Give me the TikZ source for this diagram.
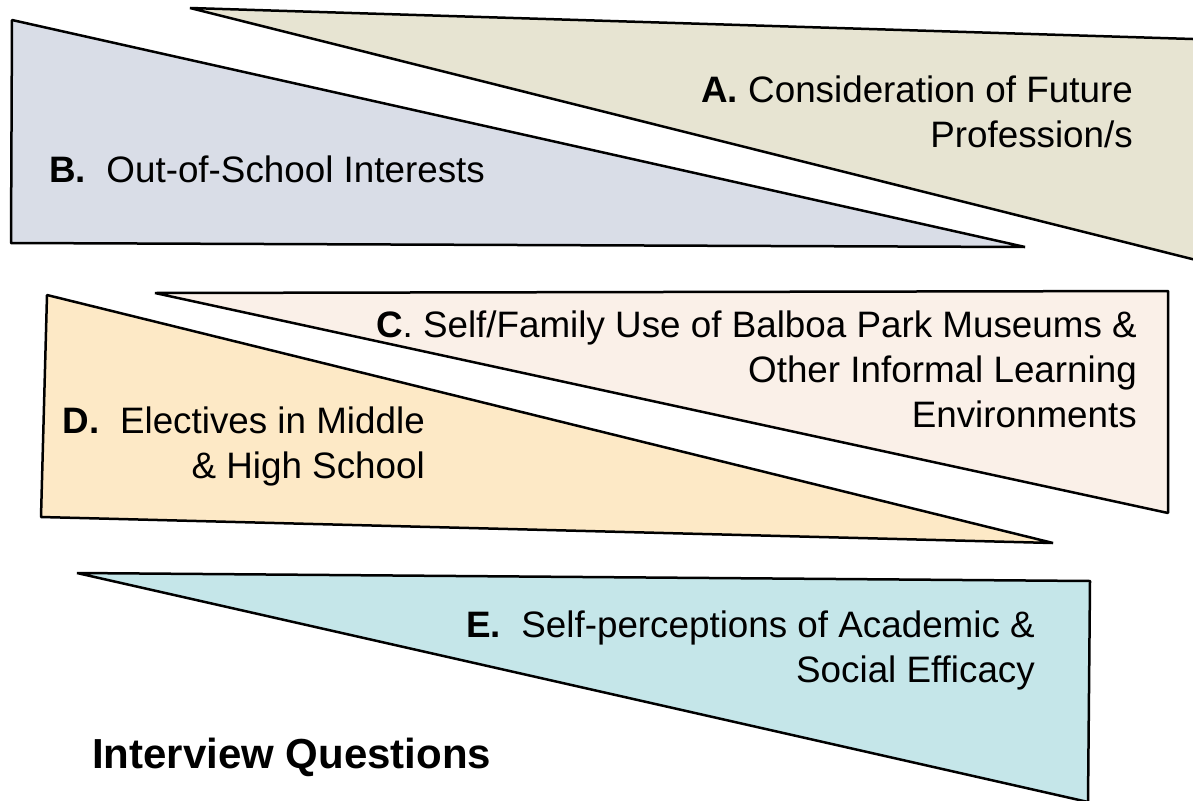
\documentclass[tikz,border=0pt]{standalone}
\usepackage{fontspec}
\setmainfont{Liberation Sans}
\definecolor{colA}{HTML}{E7E4D2}
\definecolor{colB}{HTML}{D9DDE7}
\definecolor{colC}{HTML}{FAF0E8}
\definecolor{colD}{HTML}{FDE9C6}
\definecolor{colE}{HTML}{C5E6E9}
\begin{document}
\begin{tikzpicture}[x=1pt,y=-1pt,
  wedge/.style={draw=black,line width=2.5pt,line join=bevel},
  lbl/.style={font=\fontsize{36.8}{45}\selectfont,inner sep=0pt,align=right},
  lbll/.style={font=\fontsize{36.8}{45}\selectfont,inner sep=0pt,align=left},
  title/.style={font=\fontsize{42}{50}\selectfont\bfseries,inner sep=0pt}]
\useasboundingbox (0,0) rectangle (1193,800);
\clip (0,0) rectangle (1193,800);
% A
\coordinate (a1) at (190,8);
\coordinate (a2) at (1212,39.6);
\coordinate (a3) at (1212,264);
\filldraw[wedge,fill=colA] (a1) -- (a2) -- (a3) -- cycle;
% B
\coordinate (b1) at (12,20);
\coordinate (b2) at (11,243);
\coordinate (b3) at (1025,247);
\filldraw[wedge,fill=colB] (b1) -- (b2) -- (b3) -- cycle;
% C
\coordinate (c1) at (155,293);
\coordinate (c2) at (1168,291);
\coordinate (c3) at (1168,513);
\filldraw[wedge,fill=colC] (c1) -- (c2) -- (c3) -- cycle;
% D
\coordinate (d1) at (47,295);
\coordinate (d2) at (41,517);
\coordinate (d3) at (1053,543);
\filldraw[wedge,fill=colD] (d1) -- (d2) -- (d3) -- cycle;
% E
\coordinate (e1) at (77,573);
\coordinate (e2) at (1090,581);
\coordinate (e3) at (1088,802);
\filldraw[wedge,fill=colE] (e1) -- (e2) -- (e3) -- cycle;
% labels
\node[lbl,anchor=base east] (tA) at (1133,147) {\textbf{A.} Consideration of Future\\Profession/s};
\node[lbll,anchor=base west] (tB) at (49,182) {\textbf{B.}\ \ Out-of-School Interests};
\node[lbl,anchor=base east] (tC) at (1137,427) {\textbf{C}. Self/Family Use of Balboa Park Museums \&\\Other Informal Learning\\Environments};
\node[lbl,anchor=base east] (tD) at (425,478) {\textbf{D.}\ \ Electives in Middle\\\& High School};
\node[lbl,anchor=base east] (tE) at (1035,682) {\textbf{E.}\ \ Self-perceptions of Academic \&\\Social Efficacy};
\node[title,anchor=base west] (tQ) at (92,768) {Interview Questions};
\end{tikzpicture}
\end{document}
